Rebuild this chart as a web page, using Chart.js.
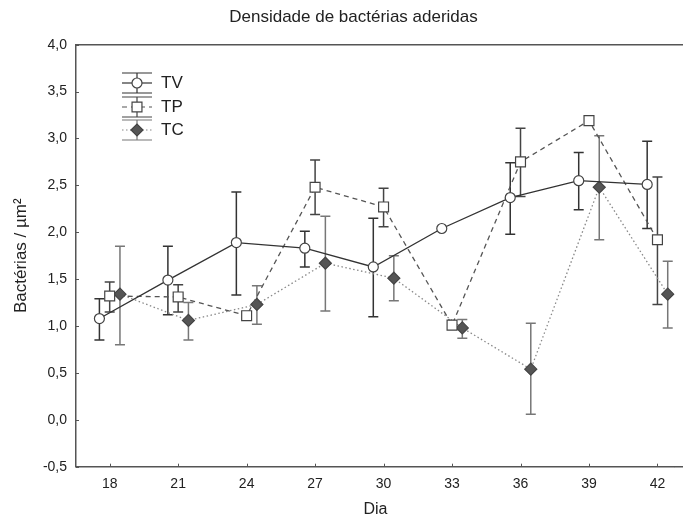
<!DOCTYPE html>
<html lang="pt">
<head>
    <meta charset="UTF-8">
    <title>Densidade de bactérias aderidas</title>
    <script src="https://cdn.jsdelivr.net/npm/chart.js"></script>
    <style>
        html, body { margin: 0; padding: 0; background: #fff; }
        #wrap { width: 683px; height: 518px; }
    </style>
</head>
<body>
<div id="wrap"><canvas id="grafico"></canvas></div>
<script>
    // dias de coleta (eixo x)
    const dias = [18, 21, 24, 27, 30, 33, 36, 39, 42];
    const yTicks = [-0.5, 0, 0.5, 1, 1.5, 2, 2.5, 3, 3.5, 4];

    // TV
    const tvMedia = [1.08, 1.49, 1.89, 1.83, 1.63, 2.04, 2.37, 2.55, 2.51];
    const tvMin   = [0.85, 1.12, 1.33, 1.63, 1.10, null, 1.98, 2.24, 2.04];
    const tvMax   = [1.29, 1.85, 2.43, 2.01, 2.15, null, 2.74, 2.85, 2.97];
    // TP
    const tpMedia = [1.32, 1.31, 1.11, 2.48, 2.27, 1.01, 2.75, 3.19, 1.92];
    const tpMin   = [1.15, 1.15, null, 2.19, 2.06, null, 2.38, null, 1.23];
    const tpMax   = [1.47, 1.44, null, 2.77, 2.47, null, 3.11, null, 2.59];
    // TC
    const tcMedia = [1.34, 1.06, 1.23, 1.67, 1.51, 0.98, 0.54, 2.48, 1.34];
    const tcMin   = [0.80, 0.85, 1.02, 1.16, 1.27, 0.87, 0.06, 1.92, 0.98];
    const tcMax   = [1.85, 1.25, 1.43, 2.17, 1.75, 1.07, 1.03, 3.03, 1.69];

    // deslocamento horizontal de cada série (dias)
    const desloc = { TV: -0.45, TP: 0, TC: 0.45 };

    const titulo = 'Densidade de bactérias aderidas';
    const fonte = "'Liberation Sans', Arial, sans-serif";

    function pontos(media, d) {
        return dias.map((x, i) => ({ x: x + d, y: media[i] }));
    }

    const series = [
        { nome: 'TV', media: tvMedia, min: tvMin, max: tvMax, cor: '#333', barra: '#333', dash: [], estilo: 'circle', raio: 5, fundo: '#fff' },
        { nome: 'TP', media: tpMedia, min: tpMin, max: tpMax, cor: '#555', barra: '#444', dash: [5, 4], estilo: 'rect', raio: 7, fundo: '#fff' },
        { nome: 'TC', media: tcMedia, min: tcMin, max: tcMax, cor: '#888', barra: '#777', dash: [1.5, 2.5], estilo: 'rectRot', raio: 6, fundo: '#555' }
    ];

    // barras de erro, bordas, título e legenda
    const extras = {
        id: 'extras',
        beforeDatasetsDraw(chart) {
            const ctx = chart.ctx;
            const xs = chart.scales.x, ys = chart.scales.y;
            ctx.save();
            ctx.setLineDash([]);
            ctx.lineWidth = 1.5;
            series.forEach(s => {
                ctx.strokeStyle = s.barra;
                dias.forEach((d, i) => {
                    if (s.min[i] == null) return;
                    const x = xs.getPixelForValue(d + desloc[s.nome]);
                    const y1 = ys.getPixelForValue(s.min[i]);
                    const y2 = ys.getPixelForValue(s.max[i]);
                    ctx.beginPath();
                    ctx.moveTo(x, y1); ctx.lineTo(x, y2);
                    ctx.moveTo(x - 5, y1); ctx.lineTo(x + 5, y1);
                    ctx.moveTo(x - 5, y2); ctx.lineTo(x + 5, y2);
                    ctx.stroke();
                });
            });
            ctx.restore();
        },
        afterDraw(chart) {
            const ctx = chart.ctx;
            const a = chart.chartArea;
            const xs = chart.scales.x, ys = chart.scales.y;
            ctx.save();
            ctx.strokeStyle = '#555';
            ctx.lineWidth = 1.5;
            ctx.beginPath();
            ctx.moveTo(a.left, a.top); ctx.lineTo(chart.width, a.top);
            ctx.moveTo(a.right, a.bottom); ctx.lineTo(chart.width, a.bottom);
            ctx.stroke();
            // marcas internas
            ctx.lineWidth = 1;
            ctx.beginPath();
            yTicks.forEach(v => {
                const y = Math.round(ys.getPixelForValue(v)) + 0.5;
                ctx.moveTo(a.left, y); ctx.lineTo(a.left + 3, y);
            });
            dias.forEach(v => {
                const x = Math.round(xs.getPixelForValue(v)) + 0.5;
                ctx.moveTo(x, a.bottom); ctx.lineTo(x, a.bottom - 3);
            });
            ctx.stroke();

            // título
            ctx.fillStyle = '#222';
            ctx.font = '17px ' + fonte;
            ctx.textAlign = 'center';
            ctx.textBaseline = 'middle';
            ctx.fillText(titulo, 353.5, 17);

            // legenda
            ctx.textAlign = 'left';
            const lx = 137, ly = [83, 107, 130];
            series.forEach((s, i) => {
                const y = ly[i];
                ctx.strokeStyle = s.barra;
                ctx.lineWidth = 1.2;
                ctx.setLineDash([]);
                ctx.beginPath();
                ctx.moveTo(lx - 15, y - 10); ctx.lineTo(lx + 15, y - 10);
                ctx.moveTo(lx - 15, y + 10); ctx.lineTo(lx + 15, y + 10);
                ctx.moveTo(lx, y - 10); ctx.lineTo(lx, y + 10);
                ctx.stroke();
                ctx.strokeStyle = s.cor;
                ctx.setLineDash(s.dash);
                ctx.beginPath();
                ctx.moveTo(lx - 15, y); ctx.lineTo(lx + 15, y);
                ctx.stroke();
                ctx.setLineDash([]);
                ctx.fillStyle = s.fundo;
                ctx.strokeStyle = '#444';
                Chart.helpers.drawPoint(ctx, { pointStyle: s.estilo, radius: s.raio, borderWidth: 1.2 }, lx, y);
                ctx.fillStyle = '#222';
                ctx.font = '17px ' + fonte;
                ctx.textBaseline = 'middle';
                ctx.fillText(s.nome, 161, y);
            });
            ctx.restore();
        }
    };

    new Chart(document.getElementById('grafico'), {
        type: 'line',
        data: {
            datasets: series.map(s => ({
                label: s.nome,
                data: pontos(s.media, desloc[s.nome]),
                borderColor: s.cor,
                borderWidth: 1.3,
                borderDash: s.dash,
                pointStyle: s.estilo,
                pointRadius: s.raio,
                pointBackgroundColor: s.fundo,
                pointBorderColor: '#444',
                pointBorderWidth: 1.2,
                fill: false,
                tension: 0
            }))
        },
        options: {
            responsive: true,
            maintainAspectRatio: false,
            animation: false,
            layout: { padding: { top: 44.7, right: 0, bottom: 0, left: 0 } },
            plugins: {
                legend: { display: false },
                tooltip: { enabled: false },
                title: { display: false }
            },
            scales: {
                x: {
                    type: 'linear',
                    min: 16.524,
                    max: 42.76,
                    afterBuildTicks: sc => { sc.ticks = dias.map(v => ({ value: v })); },
                    afterFit: sc => { sc.height = 51.3; },
                    grid: { display: false, drawTicks: false },
                    border: { display: true, color: '#555', width: 1.5 },
                    ticks: {
                        color: '#222',
                        padding: 9,
                        maxRotation: 0,
                        font: { family: fonte, size: 14 },
                        callback: v => String(v)
                    },
                    title: {
                        display: true,
                        text: 'Dia',
                        color: '#222',
                        font: { family: fonte, size: 16, lineHeight: 1 },
                        padding: 0
                    }
                },
                y: {
                    min: -0.5,
                    max: 4,
                    afterBuildTicks: sc => { sc.ticks = yTicks.map(v => ({ value: v })); },
                    afterFit: sc => { sc.width = 76; },
                    grid: { display: false, drawTicks: false },
                    border: { display: true, color: '#555', width: 1.5 },
                    ticks: {
                        color: '#222',
                        padding: 9,
                        font: { family: fonte, size: 14 },
                        callback: v => v.toFixed(1).replace('.', ',')
                    },
                    title: {
                        display: true,
                        text: 'Bactérias / µm²',
                        color: '#222',
                        font: { family: fonte, size: 17 },
                        padding: { top: 11, bottom: 0 }
                    }
                }
            }
        },
        plugins: [extras]
    });
</script>
</body>
</html>
